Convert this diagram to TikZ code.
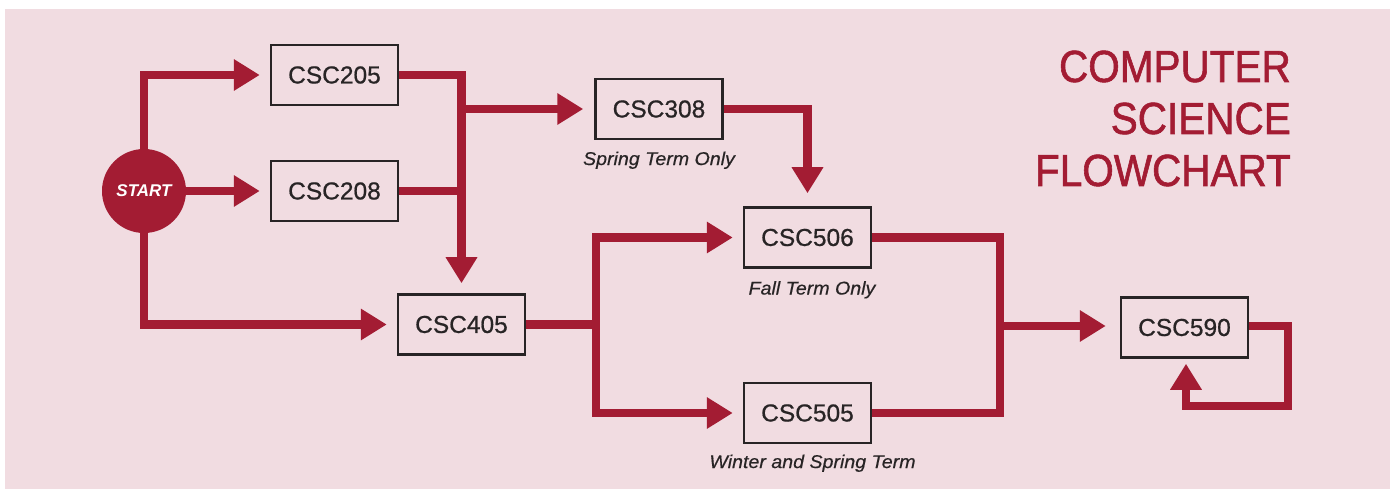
\documentclass[tikz,border=0pt]{standalone}
\usepackage{fontspec}
\setmainfont{Liberation Sans}
\newfontfamily\titlefont[FakeStretch=0.9,FakeBold=1.3]{Liberation Sans}
\newfontfamily\boxfont[FakeBold=0.7]{Liberation Sans}
\newfontfamily\labfont[FakeStretch=1.06,FakeBold=0.5]{Liberation Sans}
\usetikzlibrary{arrows.meta}
\definecolor{bgpink}{RGB}{241,220,225}
\definecolor{cred}{RGB}{163,28,51}
\definecolor{boxline}{RGB}{40,36,37}
\pgfdeclarelayer{bottom}
\pgfdeclarelayer{lines}
\pgfsetlayers{bottom,lines,main}
\begin{document}
\begin{tikzpicture}[x=1pt,y=-1pt,
  redline/.style={draw=cred,line width=8.5pt},
  arr/.style={redline,-{Triangle[width=30pt,length=26pt]}},
  course/.style={draw=boxline,line width=2.5pt,fill=bgpink,minimum width=127pt,minimum height=60pt,inner sep=0pt,font=\boxfont\fontsize{24.5}{28}\selectfont,text=boxline},
  term/.style={font=\labfont\itshape\fontsize{18.5}{22}\selectfont,text=boxline,inner sep=0pt},
  ttl/.style={font=\titlefont\fontsize{45}{52}\selectfont,text=cred,anchor=base east,inner sep=0pt}]
\useasboundingbox (0,0) rectangle (1390,489);
\begin{pgfonlayer}{bottom}
\fill[white] (0,0) rectangle (1390,489);
\fill[bgpink] (5,9) rectangle (1390,489);
\end{pgfonlayer}

% nodes
\node[circle,fill=cred,minimum size=84pt,inner sep=0pt,text=white,font=\bfseries\itshape\fontsize{17}{20}\selectfont] (start) at (144,191) {START};
\node[course] (c205) at (334.5,75) {CSC205};
\node[course] (c208) at (334.5,191) {CSC208};
\node[course] (c405) at (461.5,324.5) {CSC405};
\node[course] (c308) at (659,109) {CSC308};
\node[course] (c506) at (807.5,237.5) {CSC506};
\node[course] (c505) at (807.5,413) {CSC505};
\node[course] (c590) at (1184.5,327.5) {CSC590};

\coordinate (j1) at (c405.north |- c208.east);
\coordinate (j2) at (596,324.5);
\coordinate (j3) at (1000,326);
\coordinate (l1) at (1288,406);

% connectors
\begin{pgfonlayer}{lines}
\draw[arr] (start.north) |- ([xshift=-10pt]c205.west);
\draw[arr] (start.east) -- ([xshift=-10pt]c208.west);
\draw[arr] (start.south) |- ([xshift=-10pt]c405.west);
\draw[arr] (c205.east) -| ([yshift=10pt]c405.north);
\draw[redline] (c208.east) -- ([xshift=4.25pt]j1);
\draw[arr] (c405.north |- c308.west) -- ([xshift=-11pt]c308.west);
\draw[arr] (c308.east) -| ([yshift=13pt]c506.north);
\draw[redline] (c405.east) -- (j2);
\draw[arr] (j2) |- ([xshift=-10pt]c506.west);
\draw[arr] (j2) |- ([xshift=-10pt]c505.west);
\draw[redline] (c506.east) -| (j3) |- (c505.east);
\draw[arr] (j3) -- ([xshift=-14pt]j3 -| c590.west);
\draw[arr] (c590.east |- j3) -| (l1) -| ([xshift=1.5pt,yshift=-5pt]c590.south);
\end{pgfonlayer}

% term labels
\node[term] (t308) at ([yshift=-20pt]c308.south) {Spring Term Only};
\node[term] (t506) at ([xshift=4.5pt,yshift=-21pt]c506.south) {Fall Term Only};
\node[term] (t505) at ([xshift=5pt,yshift=-19pt]c505.south) {Winter and Spring Term};

% title
\node[ttl] (title1) at (1291,82) {COMPUTER};
\node[ttl] (title2) at (1291,134) {SCIENCE};
\node[ttl] (title3) at (1291,186) {FLOWCHART};
\end{tikzpicture}
\end{document}
